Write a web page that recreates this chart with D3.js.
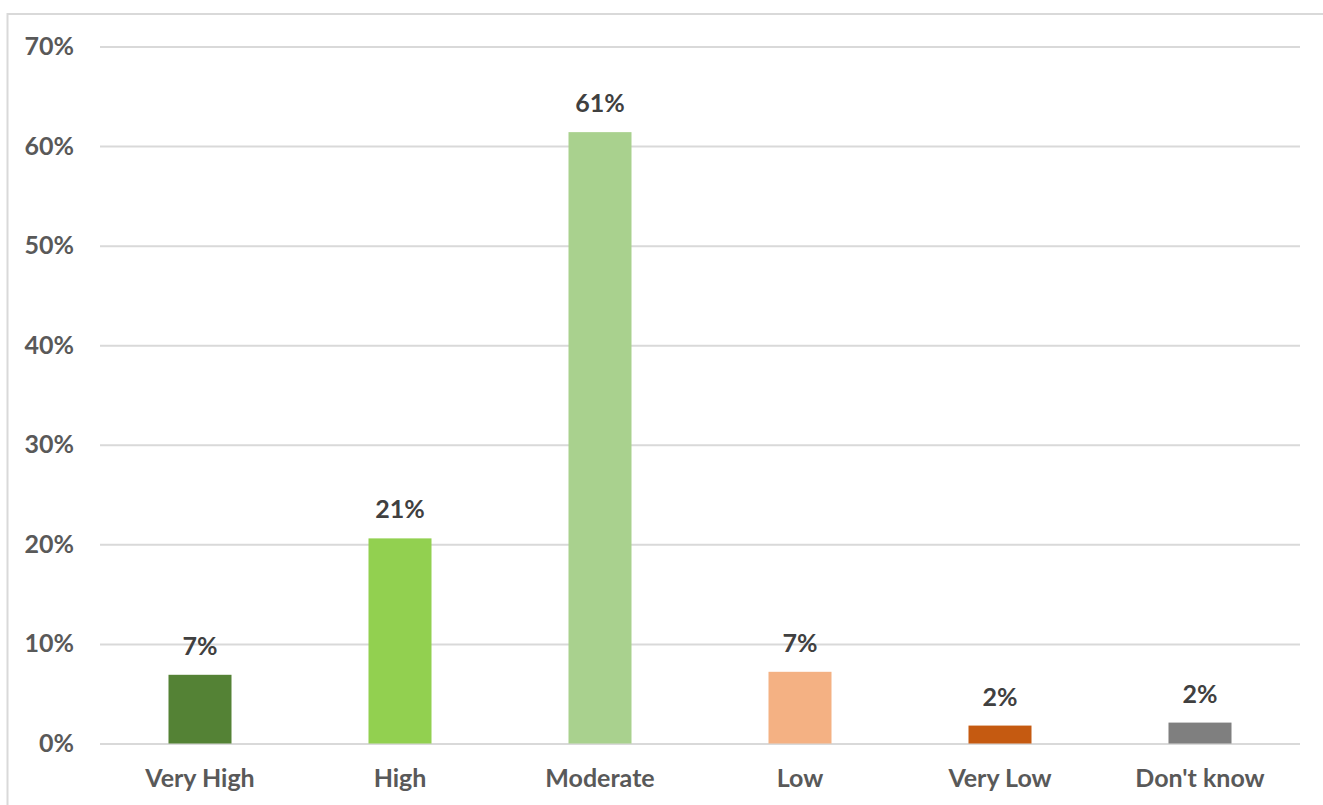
<!DOCTYPE html>
<html><head><meta charset="utf-8">
<script src="https://cdn.jsdelivr.net/npm/d3@7"></script>
<style>html,body{margin:0;padding:0;background:#fff;}svg{display:block;}</style>
</head><body>
<script>
const categories = ["Very High","High","Moderate","Low","Very Low","Don't know"];
const values = [6.9, 20.6, 61.4, 7.2, 1.8, 2.1];
const valueLabels = ["7%","21%","61%","7%","2%","2%"];
const barColors = ["#548235","#92D050","#A9D18E","#F4B183","#C55A11","#7F7F7F"];
const yTicks = [0,10,20,30,40,50,60,70];

const W = 1323, H = 805;
const svg = d3.select("body").append("svg").attr("width", W).attr("height", H);
const font = "Lato, 'Open Sans', sans-serif";
const fs = 25;

svg.append("rect").attr("x",7.5).attr("y",14).attr("width",W+20).attr("height",H+20)
  .attr("fill","#fff").attr("stroke","#d9d9d9").attr("stroke-width",2);

const x = d3.scaleBand().domain(categories).range([100,1300]).paddingInner(0.685).paddingOuter(0.3425);
const y = d3.scaleLinear().domain([0,70]).range([743.5,46.5]);

const yAxis = d3.axisLeft(y).tickValues(yTicks).tickFormat(d=>d+"%").tickSize(-1200).tickPadding(26);
const gy = svg.append("g").attr("transform","translate(100,0)").call(yAxis);
gy.select(".domain").remove();
gy.selectAll(".tick line").attr("stroke","#d9d9d9").attr("stroke-width",2);
gy.selectAll(".tick text").attr("fill","#595959").attr("font-family",font).attr("font-weight","bold").attr("font-size",fs);

const xAxis = d3.axisBottom(x).tickSize(0).tickPadding(26);
const gx = svg.append("g").attr("transform","translate(0,743.5)").call(xAxis);
gx.select(".domain").remove();
gx.selectAll(".tick text").attr("fill","#595959").attr("font-family",font).attr("font-weight","bold").attr("font-size",fs);

svg.append("g").selectAll("rect").data(values).join("rect")
  .attr("x",(d,i)=>x(categories[i]))
  .attr("width",x.bandwidth())
  .attr("y",d=>y(d))
  .attr("height",d=>y(0)-y(d))
  .attr("fill",(d,i)=>barColors[i]);

svg.append("g").selectAll("text").data(values).join("text")
  .attr("x",(d,i)=>x(categories[i])+x.bandwidth()/2)
  .attr("y",d=>y(d)-20)
  .attr("text-anchor","middle")
  .attr("fill","#404040").attr("font-family",font).attr("font-weight","bold").attr("font-size",fs)
  .text((d,i)=>valueLabels[i]);
</script>
</body></html>
